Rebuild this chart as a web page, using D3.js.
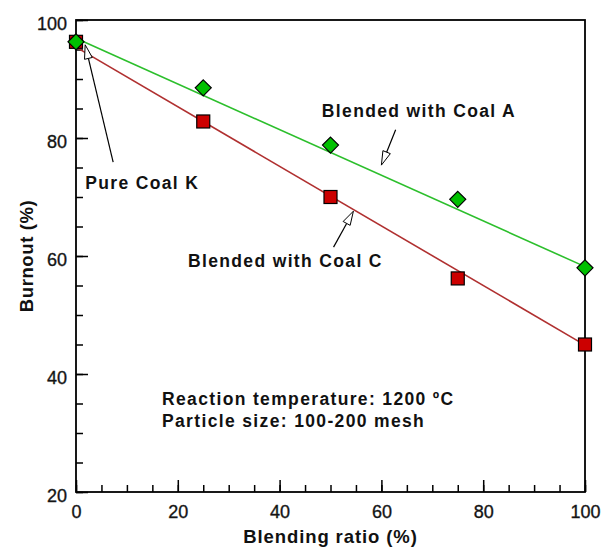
<!DOCTYPE html>
<html>
<head>
<meta charset="utf-8">
<script src="https://cdn.jsdelivr.net/npm/d3@7"></script>
<style>
  body { margin: 0; background: #fff; }
  text { font-family: "Liberation Sans", Arial, sans-serif; fill: #111; }
</style>
</head>
<body>
<script>
// blending ratio (%) and burnout (%)
var ratio = [0, 25, 50, 75, 100];
var burnoutA = [96.3, 88.5, 78.8, 69.6, 58.0];
var burnoutC = [96.3, 82.8, 70.0, 56.2, 45.0];

// fitted trend lines (end points)
var fitA = [[0, 96.9], [100, 58.2]];
var fitC = [[0, 95.4], [100, 44.9]];

var xTicks = [0, 20, 40, 60, 80, 100];
var yTicks = [20, 40, 60, 80, 100];

var width = 601,
    height = 548;

var margin = {top: 20, right: 16, bottom: 56, left: 76};

var x = d3.scaleLinear().domain([0, 100]).range([margin.left, width - margin.right]);
var y = d3.scaleLinear().domain([20, 100]).range([height - margin.bottom, margin.top]);

var svg = d3.select("body")
    .append("svg")
    .attr("width", width)
    .attr("height", height);

// minor ticks every 5
var minor = d3.range(0, 101, 5);
var minorY = d3.range(20, 101, 5);

function styleTicks(g) {
    g.select(".domain").remove();
    g.selectAll("line").attr("stroke", "#000").attr("stroke-width", 1.5);
    g.selectAll("text")
        .attr("font-size", 18)
        .attr("font-family", "Liberation Sans, Arial, sans-serif")
        .attr("fill", "#222")
        .attr("stroke", "#222").attr("stroke-width", 0.35);
}

// x axis ticks (inside, pointing up)
svg.append("g")
    .attr("transform", "translate(0," + y(20) + ")")
    .call(d3.axisBottom(x).tickValues(minor).tickSizeInner(-7).tickSizeOuter(0).tickFormat(""))
    .call(styleTicks);

svg.append("g")
    .attr("transform", "translate(0," + y(20) + ")")
    .call(d3.axisBottom(x).tickValues(xTicks).tickSizeInner(-12).tickSizeOuter(0).tickPadding(13))
    .call(styleTicks);

// y axis ticks (inside, pointing right)
svg.append("g")
    .attr("transform", "translate(" + x(0) + ",0)")
    .call(d3.axisLeft(y).tickValues(minorY).tickSizeInner(-7).tickSizeOuter(0).tickFormat(""))
    .call(styleTicks);

svg.append("g")
    .attr("transform", "translate(" + x(0) + ",0)")
    .call(d3.axisLeft(y).tickValues(yTicks).tickSizeInner(-12).tickSizeOuter(0).tickPadding(9))
    .call(styleTicks)
    .selectAll("text").attr("dy", "0.5em");

// frame
svg.append("rect")
    .attr("x", x(0)).attr("y", y(100))
    .attr("width", x(100) - x(0)).attr("height", y(20) - y(100))
    .attr("fill", "none").attr("stroke", "#000").attr("stroke-width", 1.8);

// fit lines
var line = d3.line().x(function(d) { return x(d[0]); }).y(function(d) { return y(d[1]); });

svg.append("path").attr("d", line(fitC))
    .attr("stroke", "#b03030").attr("stroke-width", 1.6).attr("fill", "none");
svg.append("path").attr("d", line(fitA))
    .attr("stroke", "#2cbf2c").attr("stroke-width", 1.6).attr("fill", "none");

// markers: squares (Coal C) first, diamonds (Coal A) on top
svg.append("g").selectAll("rect")
    .data(ratio.map(function(r, i) { return [r, burnoutC[i]]; }))
    .enter().append("rect")
    .attr("x", function(d) { return x(d[0]) - 6.5; })
    .attr("y", function(d) { return y(d[1]) - 6.5; })
    .attr("width", 13).attr("height", 13)
    .attr("fill", "#cc0000").attr("stroke", "#000").attr("stroke-width", 1.2);

svg.append("g").selectAll("path")
    .data(ratio.map(function(r, i) { return [r, burnoutA[i]]; }))
    .enter().append("path")
    .attr("transform", function(d) { return "translate(" + x(d[0]) + "," + y(d[1]) + ")"; })
    .attr("d", "M0,-8L8,0L0,8L-8,0Z")
    .attr("fill", "#00c000").attr("stroke", "#000").attr("stroke-width", 1.2);

// arrows with hollow heads
function arrow(x1, y1, x2, y2) {
    var px1 = x(x1), py1 = y(y1), px2 = x(x2), py2 = y(y2);
    var ang = Math.atan2(py2 - py1, px2 - px1);
    var len = 14, half = 4;
    var bx = px2 - len * Math.cos(ang), by = py2 - len * Math.sin(ang);
    var nx = -Math.sin(ang) * half, ny = Math.cos(ang) * half;
    svg.append("line")
        .attr("x1", px1).attr("y1", py1).attr("x2", bx).attr("y2", by)
        .attr("stroke", "#000").attr("stroke-width", 1.2);
    svg.append("path")
        .attr("d", "M" + px2 + "," + py2 + "L" + (bx + nx) + "," + (by + ny) + "L" + (bx - nx) + "," + (by - ny) + "Z")
        .attr("fill", "#fff").attr("stroke", "#000").attr("stroke-width", 1);
}

arrow(7.3, 75.9, 1.8, 95.8);
arrow(62.8, 81.4, 60.0, 75.4);
arrow(50.6, 61.5, 54.5, 67.6);

var labels = [
    {t: "Pure Coal K", xv: 1.8, yv: 71.4},
    {t: "Blended with Coal A", xv: 48.3, yv: 83.6},
    {t: "Blended with Coal C", xv: 22.0, yv: 58.1},
    {t: "Reaction temperature: 1200 ºC", xv: 16.9, yv: 34.8},
    {t: "Particle size: 100-200 mesh", xv: 16.9, yv: 31.0}
];

svg.append("g").selectAll("text")
    .data(labels)
    .enter().append("text")
    .attr("x", function(d) { return x(d.xv); })
    .attr("y", function(d) { return y(d.yv); })
    .attr("font-size", 17.5).attr("font-weight", "bold")
    .attr("letter-spacing", 1.35)
    .text(function(d) { return d.t; });

// axis titles
svg.append("text")
    .attr("x", (x(0) + x(100)) / 2).attr("y", 543)
    .attr("text-anchor", "middle")
    .attr("font-size", 18.5).attr("font-weight", "bold")
    .attr("letter-spacing", 0.9)
    .text("Blending ratio (%)");

svg.append("text")
    .attr("transform", "translate(33," + ((y(20) + y(100)) / 2) + ") rotate(-90)")
    .attr("text-anchor", "middle")
    .attr("font-size", 18.5).attr("font-weight", "bold")
    .attr("letter-spacing", 0.6)
    .text("Burnout (%)");
</script>
</body>
</html>
